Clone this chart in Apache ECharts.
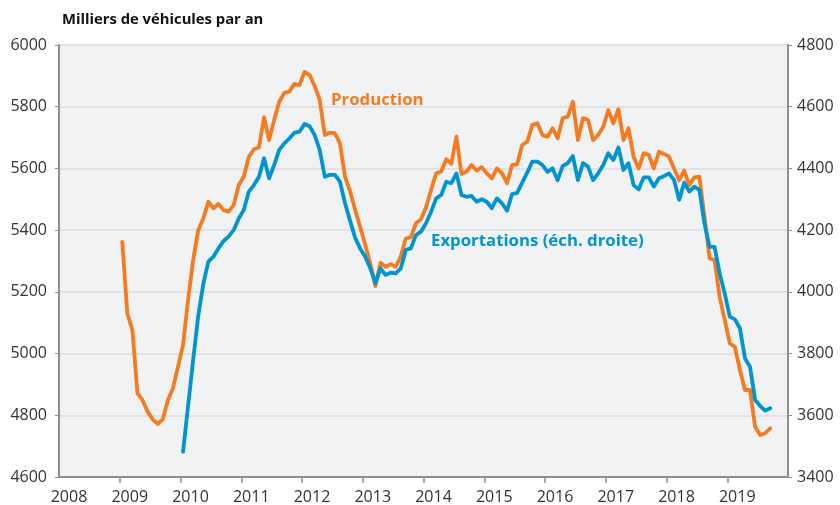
<!DOCTYPE html>
<html>
<head>
<meta charset="utf-8">
<script src="https://cdn.jsdelivr.net/npm/echarts@6/dist/echarts.min.js"></script>
<style>
html,body{margin:0;padding:0;background:#fff;}
#chart{width:840px;height:505px;}
</style>
</head>
<body>
<div id="chart"></div>
<script>
// Monthly data, production from Jan 2009, exports from Jan 2010 (thousands of vehicles per year)
const productionStart = 2009;
const production = [
  5362, 5130, 5076, 4871, 4849, 4812, 4787, 4772, 4787, 4849, 4887, 4957,
  5028, 5174, 5303, 5400, 5438, 5492, 5471, 5485, 5465, 5460, 5481, 5546,
  5573, 5638, 5662, 5668, 5766, 5692, 5757, 5816, 5845, 5849, 5874, 5870,
  5913, 5903, 5867, 5822, 5708, 5716, 5714, 5681, 5573, 5525, 5465, 5410,
  5352, 5291, 5219, 5294, 5281, 5290, 5281, 5314, 5373, 5377, 5422, 5435,
  5474, 5530, 5584, 5590, 5630, 5615, 5703, 5582, 5590, 5611, 5593, 5604,
  5584, 5568, 5600, 5584, 5552, 5611, 5614, 5676, 5687, 5741, 5746, 5708,
  5703, 5730, 5698, 5763, 5768, 5816, 5692, 5763, 5757, 5692, 5708, 5735,
  5789, 5746, 5792, 5692, 5730, 5638, 5600, 5649, 5644, 5600, 5654, 5647,
  5638, 5600, 5562, 5593, 5546, 5571, 5573, 5444, 5309, 5303, 5184, 5109,
  5033, 5022, 4947, 4882, 4882, 4763, 4736, 4742, 4758
];
const exportsStart = 2010;
const exportsData = [
  3482, 3630, 3779, 3922, 4025, 4098, 4114, 4141, 4165, 4179, 4200, 4238,
  4265, 4325, 4346, 4373, 4433, 4368, 4411, 4460, 4481, 4497, 4516, 4519,
  4544, 4537, 4508, 4460, 4373, 4379, 4379, 4357, 4287, 4230, 4175, 4140,
  4114, 4076, 4028, 4076, 4055, 4062, 4060, 4076, 4136, 4141, 4184, 4195,
  4222, 4260, 4303, 4314, 4357, 4352, 4384, 4314, 4308, 4311, 4292, 4300,
  4292, 4271, 4303, 4287, 4263, 4317, 4321, 4354, 4387, 4422, 4422, 4411,
  4389, 4400, 4362, 4408, 4417, 4440, 4362, 4417, 4406, 4362, 4384, 4411,
  4449, 4427, 4468, 4395, 4417, 4346, 4332, 4371, 4371, 4341, 4368, 4375,
  4384, 4362, 4298, 4354, 4325, 4341, 4330, 4222, 4146, 4146, 4060, 3995,
  3920, 3911, 3882, 3785, 3757, 3650, 3630, 3615, 3623
];
const yearTicks = [2009, 2010, 2011, 2012, 2013, 2014, 2015, 2016, 2017, 2018, 2019];
const yearLabels = [2008, 2009, 2010, 2011, 2012, 2013, 2014, 2015, 2016, 2017, 2018, 2019];
const titleText = 'Milliers de véhicules par an';
const productionName = 'Production';
const exportsName = 'Exportations (éch. droite)';

function toSeries(start, values) {
  return values.map((v, k) => [start + (k + 0.5) / 12, v]);
}

const FONT = 'Open Sans';
const axisGray = '#8e8e8e';
const orange = '#f47b20';
const blue = '#0094d0';
const plain = v => String(v);

const chart = echarts.init(document.getElementById('chart'), null, {renderer: 'canvas'});
chart.setOption({
  animation: false,
  backgroundColor: '#ffffff',
  grid: {
    left: 59, right: 52, top: 45, bottom: 28,
    show: true, backgroundColor: '#f1f2f4', borderWidth: 0
  },
  xAxis: {
    type: 'value', min: 2008, max: 2020, interval: 1,
    axisLine: {show: true, onZero: false, lineStyle: {color: axisGray, width: 2}},
    axisTick: {show: true, customValues: yearTicks, length: 6, lineStyle: {color: axisGray, width: 1.5}},
    axisLabel: {
      customValues: yearLabels,
      formatter: plain,
      color: '#333', fontFamily: FONT, fontSize: 16, margin: 12,
      padding: [0, 0, 0, 20]
    },
    splitLine: {show: false}
  },
  yAxis: [
    {
      type: 'value', min: 4600, max: 6000, interval: 200, position: 'left',
      axisLine: {show: true, lineStyle: {color: axisGray, width: 2}},
      axisTick: {show: true, length: 4, lineStyle: {color: axisGray}},
      axisLabel: {color: '#333', fontFamily: FONT, fontSize: 16, margin: 12, formatter: plain},
      splitLine: {show: true, lineStyle: {color: '#dcdde1', width: 1.5}}
    },
    {
      type: 'value', min: 3400, max: 4800, interval: 200, position: 'right',
      axisLine: {show: true, lineStyle: {color: axisGray, width: 2}},
      axisTick: {show: true, length: 4, lineStyle: {color: axisGray}},
      axisLabel: {color: '#333', fontFamily: FONT, fontSize: 16, margin: 9, formatter: plain},
      splitLine: {show: false}
    }
  ],
  series: [
    {
      name: productionName, type: 'line', yAxisIndex: 0,
      data: toSeries(productionStart, production),
      showSymbol: false, smooth: false,
      lineStyle: {color: orange, width: 3.8, cap: 'round', join: 'round'},
      z: 2
    },
    {
      name: exportsName, type: 'line', yAxisIndex: 1,
      data: toSeries(exportsStart, exportsData),
      showSymbol: false, smooth: false,
      lineStyle: {color: blue, width: 3.8, cap: 'round', join: 'round'},
      z: 3
    }
  ],
  graphic: [
    {type: 'text', left: 62, top: 12, style: {text: titleText, fontFamily: FONT, fontSize: 14.8, fontWeight: 'bold', fill: '#111'}},
    {type: 'text', left: 331, top: 92, style: {text: productionName, fontFamily: FONT, fontSize: 16.8, fontWeight: 'bold', fill: orange}},
    {type: 'text', left: 431, top: 233, style: {text: exportsName, fontFamily: FONT, fontSize: 16.8, fontWeight: 'bold', fill: blue}}
  ]
});
</script>
</body>
</html>
